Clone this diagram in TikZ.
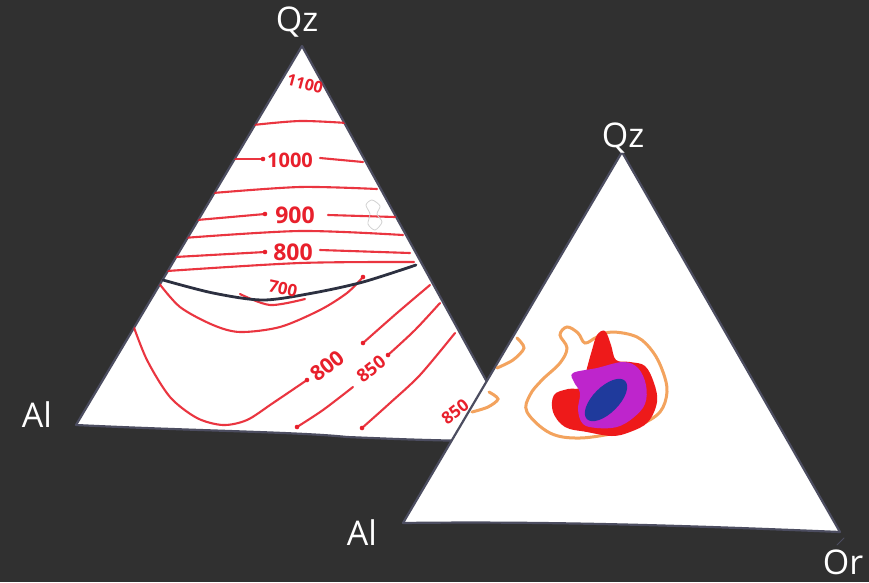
\documentclass[tikz,border=0pt]{standalone}
\usepackage{fontspec}
\setmainfont{Open Sans}
\usetikzlibrary{calc}
\definecolor{SlideDark}{HTML}{303030}
\definecolor{PenEdge}{HTML}{4C4D60}
\definecolor{InkRed}{HTML}{E8202C}
\definecolor{InkNavy}{HTML}{2C3040}
\definecolor{InkOrange}{HTML}{F3A35E}
\definecolor{BlobRed}{HTML}{EE1A1A}
\definecolor{BlobMagenta}{HTML}{BE25CC}
\definecolor{BlobBlue}{HTML}{1F3A9C}

\begin{document}
\begin{tikzpicture}[x=1pt,y=-1pt,
  paper/.style={fill=white, draw=PenEdge, line width=2.2pt, line join=round},
  isoline/.style={InkRed, line width=2.1pt, line cap=round, opacity=.9},
  isolabel/.style={text=InkRed, inner sep=0pt},
  blobline/.style={InkOrange, line width=3pt, line cap=round},
  corner/.style={text=white, font=\fontsize{34}{34}\selectfont, inner sep=0pt}]
  \fill[SlideDark] (0,0) rectangle (869,582);
  \useasboundingbox (0,0) rectangle (869,582);

  % left diagram
  \coordinate (topL) at (302,46);
  \coordinate (leftL) at (76,425);
  \coordinate (rightL) at (520,442);
  \draw[paper] (topL) -- (leftL) .. controls (200,431) and (300,432) .. (347,437)
    .. controls (420,440) .. (rightL) -- cycle;
  \begin{scope}
    \clip (topL) -- (leftL) -- (rightL) -- cycle;
    \draw[isoline] plot[smooth] coordinates {(253,125) (300,121) (347,123)};
    \draw[isoline] (233,159) -- (263,159);
    \draw[isoline] (320,158) -- (363,162);
    \draw[isoline] plot[smooth] coordinates {(213,193) (300,187) (377,189)};
    \draw[isoline] (197,220) -- (265,214);
    \draw[isoline] (328,215) -- (395,217);
    \draw[isoline] plot[smooth] coordinates {(183,238) (300,231) (403,235)};
    \draw[isoline] (175,257) -- (265,252);
    \draw[isoline] (320,250) -- (410,253);
    \draw[isoline] plot[smooth] coordinates {(167,271) (300,263) (414,262)};
    \draw[isoline] plot[smooth] coordinates {(240,294) (270,305) (305,299)};
    \draw[isoline] plot[smooth] coordinates {(158,282) (180,307) (213,325) (240,332)
      (280,327) (320,310) (347,293) (363,277)};
    \draw[isoline] plot[smooth] coordinates {(132,322) (147,360) (170,397) (197,418)
      (223,425) (247,420) (273,403) (307,380)};
    \draw[isoline] plot[smooth] coordinates {(363,343) (397,313) (430,285)};
    \draw[isoline] plot[smooth] coordinates {(297,427) (323,410) (353,387)};
    \draw[isoline] plot[smooth] coordinates {(388,355) (415,330) (440,303)};
    \draw[isoline] plot[smooth] coordinates {(362,428) (390,403) (420,375) (455,333)};
    \foreach \x/\y in {263/159,265/214,265/252,363/277,307/380,363/343,388/355,362/428,297/427}
      \fill[InkRed] (\x,\y) circle[radius=2.3];
  \end{scope}
  \draw[InkNavy, line width=2.8pt, line cap=round] plot[smooth] coordinates {(163,280)
    (213,293) (263,300) (313,293) (363,282) (416,265)};
  \draw[gray!35, line width=0.8pt] plot[smooth cycle] coordinates {(366,205) (372,200)
    (380,206) (377,214) (382,222) (375,230) (368,224) (370,214)};
  \node[isolabel, font=\bfseries\fontsize{16}{16}\selectfont, rotate=-15] (t1100) at (305,84) {1100};
  \node[isolabel, font=\bfseries\fontsize{20}{20}\selectfont] (t1000) at (290,160) {1000};
  \node[isolabel, font=\bfseries\fontsize{23}{23}\selectfont] (t900) at (295,215) {900};
  \node[isolabel, font=\bfseries\fontsize{23}{23}\selectfont] (t800) at (293,252) {800};
  \node[isolabel, font=\bfseries\fontsize{17}{17}\selectfont, rotate=-12] (t700) at (283,289) {700};
  \node[isolabel, font=\bfseries\fontsize{21}{21}\selectfont, rotate=38] (t800b) at (327,366) {800};
  \node[isolabel, font=\bfseries\fontsize{18}{18}\selectfont, rotate=38] (t850) at (371,369) {850};
  \node[isolabel, font=\bfseries\fontsize{17}{17}\selectfont, rotate=38] (t850b) at (455,412) {850};

  % right diagram
  \coordinate (topR) at (622,152);
  \coordinate (leftR) at (403,523);
  \coordinate (rightR) at (840,532);
  \draw[paper] (topR) -- (leftR) .. controls (550,521) and (700,526) .. (rightR) -- cycle;
  \draw[blobline] plot[smooth cycle, tension=.6] coordinates {(580,438) (550,433)
    (527,412) (530,395) (542,380) (560,363) (567,348) (560,335) (567,327) (578,333)
    (585,343) (597,337) (612,332) (637,337) (653,352) (663,372) (667,392) (660,412)
    (640,425) (620,432)};
  \draw[blobline] plot[smooth] coordinates {(497,368) (513,360) (524,348) (517,338)};
  \draw[blobline] plot[smooth] coordinates {(472,412) (488,407) (498,399) (489,392)};
  \fill[BlobRed] plot[smooth cycle, tension=.6] coordinates {(587,368) (592,350)
    (597,335) (605,331) (611,345) (616,360) (630,362) (645,366) (654,383) (657,402)
    (648,422) (630,432) (612,436) (587,432) (565,427) (553,412) (554,395) (568,389)
    (582,387)};
  \fill[BlobMagenta] plot[smooth cycle, tension=.6] coordinates {(573,373) (597,368)
    (623,362) (638,368) (646,385) (645,404) (633,418) (617,427) (597,428) (583,424)
    (578,410) (580,393) (574,382)};
  \fill[BlobBlue, rotate around={45:(606,400)}] (606,400) ellipse[x radius=27, y radius=13];
  \draw[PenEdge, line width=1pt, line cap=round] (837,545) -- (844,538);

  % corner labels
  \node[corner] (qzL) at (297,22) {Qz};
  \node[corner] (alL) at (37,415) {Al};
  \node[corner] (qzR) at (623,138) {Qz};
  \node[corner] (alR) at (362,533) {Al};
  \node[corner] (orR) at (843,562) {Or};
\end{tikzpicture}
\end{document}
